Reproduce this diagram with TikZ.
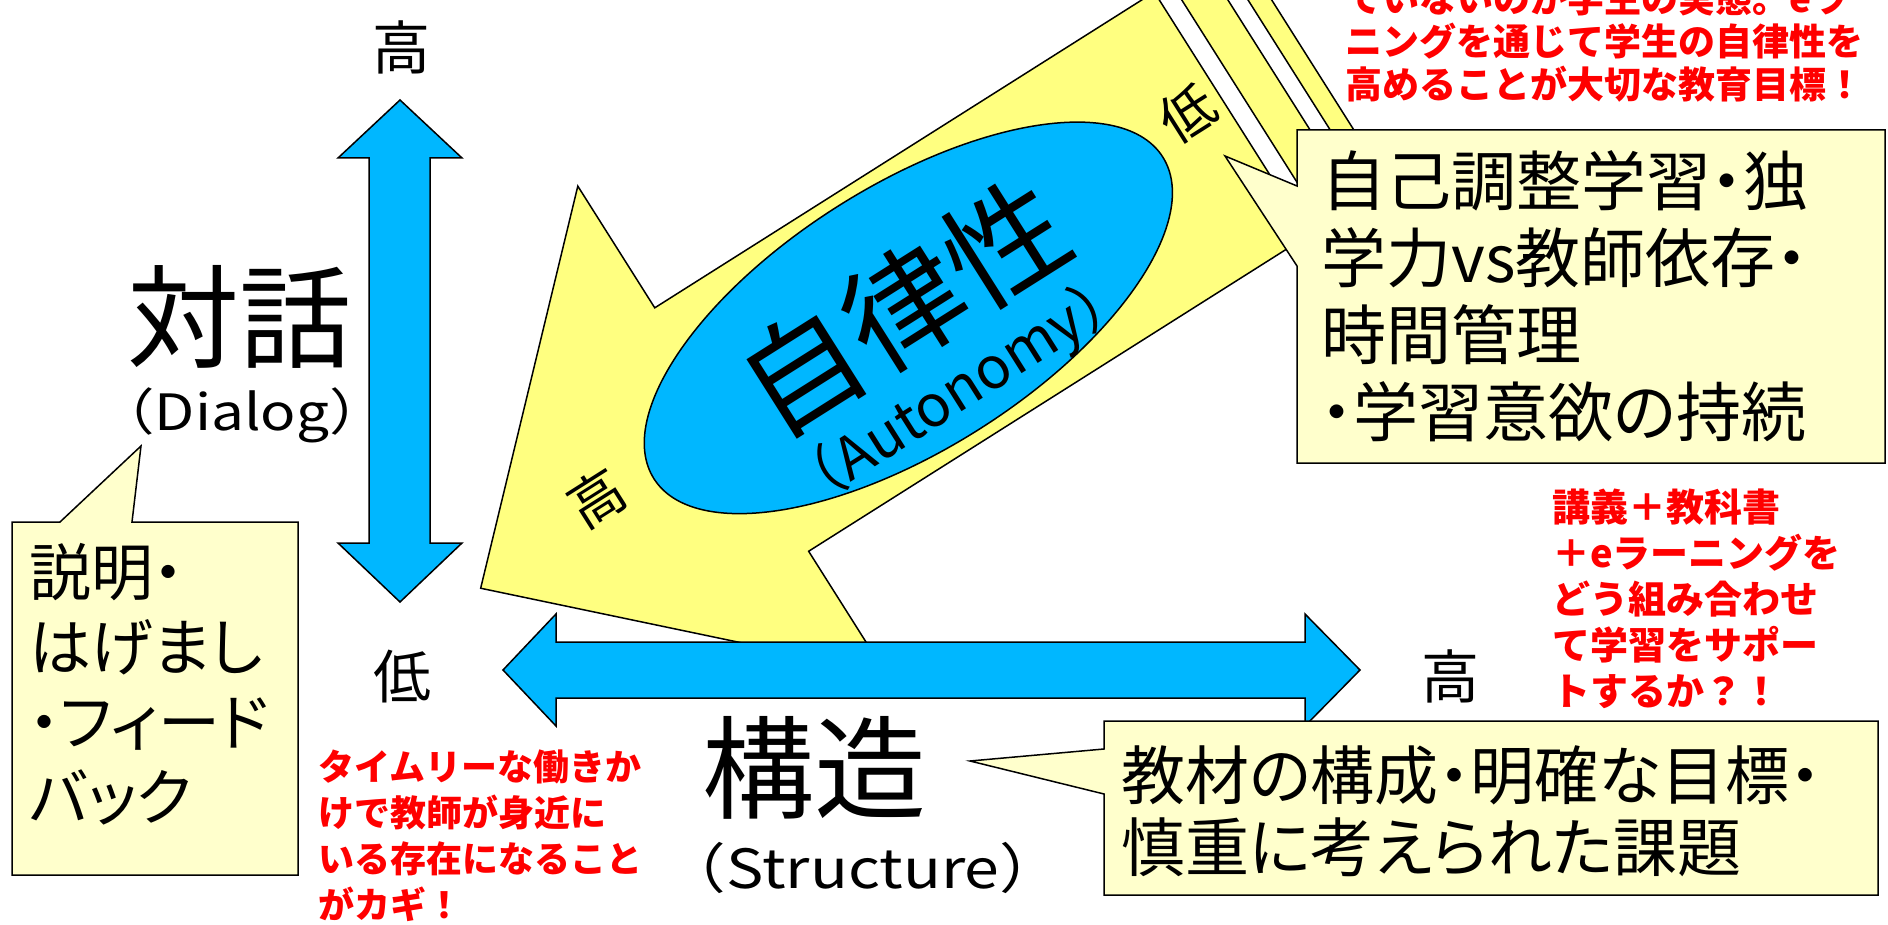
\documentclass[tikz,border=0pt]{standalone}
\usepackage{fontspec}
\newfontfamily\jp{Noto Sans CJK JP}
\newfontfamily\jpp[RawFeature=+palt]{Noto Sans CJK JP}
\definecolor{skyb}{RGB}{0,183,255}
\definecolor{arrowy}{RGB}{255,255,128}
\definecolor{calloutfill}{RGB}{255,255,204}
\definecolor{redtxt}{RGB}{255,0,0}
\tikzset{
 shapeline/.style={draw=black, line width=1.5pt, line join=miter},
 bluearrow/.style={shapeline, fill=skyb},
 yellowarrow/.style={shapeline, fill=arrowy},
 callout/.style={draw=black, line width=1.5pt, fill=calloutfill},
 calltext/.style={inner sep=0pt, anchor=north west, align=left},
 redtext/.style={inner sep=0pt, anchor=north west, align=left, text=redtxt},
 bigjp/.style={inner sep=0pt, font=\jp\fontsize{112}{120}\selectfont},
 levellabel/.style={inner sep=0pt, font=\jp\fontsize{58}{60}\selectfont},
}
\begin{document}
\begin{tikzpicture}[x=1pt,y=-1pt]
\useasboundingbox (0,0) rectangle (1888,925);
\clip (0,0) rectangle (1888,925);

% autonomy (striped yellow arrow)
\begin{scope}[shift={(402.9,637.4)}, rotate=32.3]
 \draw[yellowarrow] (92,0) -- (389,-288) -- (389,-144) -- (980,-144) -- (980,144) -- (389,144) -- (389,288) -- cycle;
 \draw[yellowarrow] (999,-144) rectangle (1038,144);
 \draw[yellowarrow] (1055,-144) rectangle (1075,144);
 \draw[shapeline, fill=skyb] (598,0) ellipse [x radius=301, y radius=132];
 \node[inner sep=0pt, rotate=32.3, font=\jp\fontsize{120}{120}\selectfont] (jiritsu) at (600,-12) {自律性};
 \node[inner sep=0pt, rotate=32.3, font=\jp\fontsize{58}{60}\selectfont] (autonomy) at (602,90) {（Autonomy）};
 \node[inner sep=0pt, rotate=32.3, font=\jp\fontsize{55}{56}\selectfont] (ahigh) at (238,-14) {高};
 \node[inner sep=0pt, rotate=32.3, font=\jp\fontsize{55}{56}\selectfont] (alow) at (943,-24) {低};
\end{scope}

% dialog (vertical arrow)
\draw[bluearrow] (400,100) -- (462,158) -- (430,158) -- (430,543) -- (462,543) -- (400,602)
  -- (338,543) -- (369,543) -- (369,158) -- (338,158) -- cycle;
% structure (horizontal arrow)
\draw[bluearrow] (503,670) -- (556,614) -- (556,642) -- (1305,642) -- (1305,614) -- (1360,670)
  -- (1305,726) -- (1305,698) -- (556,698) -- (556,726) -- cycle;

\node[levellabel] (dhigh) at (401,47) {高};
\node[levellabel] (dlow) at (402,677) {低};
\node[levellabel] (shigh) at (1450,676) {高};

\node[bigjp] (taiwa) at (239,317) {対話};
\node[inner sep=0pt, xscale=1.17, font=\jp\fontsize{50}{54}\selectfont] (dialog) at (242,415) {（Dialog）};
\node[bigjp] (kouzou) at (814,768) {構造};
\node[inner sep=0pt, xscale=1.16, font=\jp\fontsize{54}{58}\selectfont] (structure) at (863,868) {（Structure）};

% callouts
\draw[callout] (1297,130) -- (1885,130) -- (1885,463) -- (1297,463) -- (1297,266) -- (1225,156) -- (1297,186) -- cycle;
\node[calltext, font=\jpp\fontsize{65}{77}\selectfont] (autotext) at (1321,150) {自己調整学習・独\\学力vs教師依存・\\時間管理\\・学習意欲の持続};

\draw[callout] (12,522) -- (60,522) -- (141,446) -- (132,522) -- (298,522) -- (298,875) -- (12,875) -- cycle;
\node[calltext, font=\jpp\fontsize{62}{75}\selectfont] (dialogtext) at (29,543) {説明・\\はげまし\\・フィード\\バック};

\draw[callout] (1104,721) -- (1878,721) -- (1878,895) -- (1104,895) -- (1104,794) -- (970,761) -- (1104,749) -- cycle;
\node[calltext, font=\jpp\fontsize{64}{72}\selectfont] (structtext) at (1121,745) {教材の構成・明確な目標・\\慎重に考えられた課題};

% red notes
\node[redtext, font=\jp\bfseries\fontsize{37}{43}\selectfont] (note1) at (1345,-20) {ていないのが学生の実態。eラ\\ニングを通じて学生の自律性を\\高めることが大切な教育目標！};
\node[redtext, font=\jp\bfseries\fontsize{38}{46}\selectfont] (note2) at (1552,489) {講義＋教科書\\＋eラーニングを\\どう組み合わせ\\て学習をサポー\\トするか？！};
\node[redtext, font=\jp\bfseries\fontsize{36}{46}\selectfont] (note3) at (318,750) {タイムリーな働きか\\けで教師が身近に\\いる存在になること\\がカギ！};
\end{tikzpicture}
\end{document}
